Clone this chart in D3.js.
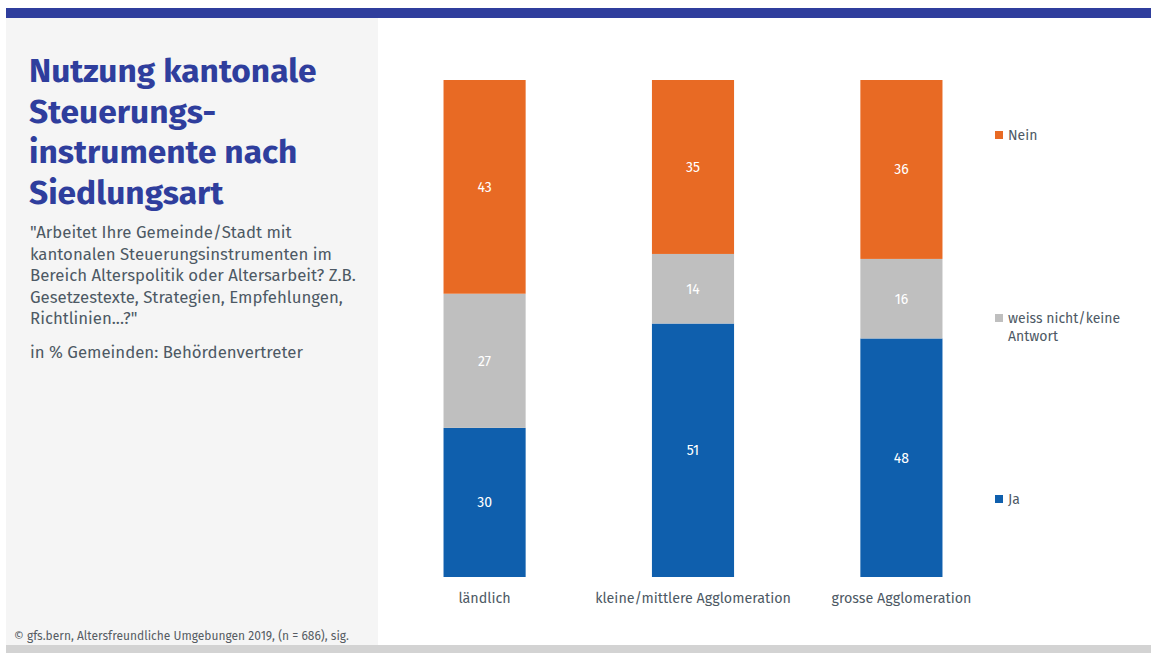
<!DOCTYPE html>
<html>
<head>
<meta charset="utf-8">
<script src="https://cdn.jsdelivr.net/npm/d3@7"></script>
<style>
  html, body { margin: 0; padding: 0; background: #ffffff; }
  svg { display: block; }
  text { font-family: "Fira Sans", Lato, "Noto Sans", sans-serif; }
</style>
</head>
<body>
<svg id="chart" width="1151" height="653"></svg>
<script>
// Settlement types (x categories)
const categories = ["ländlich", "kleine/mittlere Agglomeration", "grosse Agglomeration"];
// Answer series, stacked bottom to top
const seriesNames = ["Ja", "weiss nicht/keine Antwort", "Nein"];
const ja       = [30, 51, 48];
const weiss    = [27, 14, 16];
const nein     = [43, 35, 36];
const seriesColors = ["#0f5fad", "#bfbfbf", "#e86a24"];

const titleLines = ["Nutzung kantonale", "Steuerungs-", "instrumente nach", "Siedlungsart"];
const questionLines = [
  "\"Arbeitet Ihre Gemeinde/Stadt mit",
  "kantonalen Steuerungsinstrumenten im",
  "Bereich Alterspolitik oder Altersarbeit? Z.B.",
  "Gesetzestexte, Strategien, Empfehlungen,",
  "Richtlinien...?\""
];
const baseText = "in % Gemeinden: Behördenvertreter";
const sourceText = "© gfs.bern, Altersfreundliche Umgebungen 2019, (n = 686), sig.";

const svg = d3.select("#chart");
const W = 1151, H = 653;

// Frame: top band, left info panel, bottom band
svg.append("rect").attr("x", 6).attr("y", 8).attr("width", W - 6).attr("height", 10).attr("fill", "#2f3e9d");
svg.append("rect").attr("x", 6).attr("y", 18).attr("width", 372).attr("height", 627).attr("fill", "#f5f5f5");
svg.append("rect").attr("x", 6).attr("y", 645).attr("width", W - 6).attr("height", 8).attr("fill", "#d3d3d3");

// Title
const title = svg.append("text").attr("x", 29).attr("y", 82)
  .attr("fill", "#2f3e9d").attr("font-size", 33.5).attr("font-weight", 700);
titleLines.forEach((l, i) => title.append("tspan").attr("x", 29).attr("dy", i ? 40.5 : 0).text(l));

// Question text
const q = svg.append("text").attr("x", 30).attr("y", 238)
  .attr("fill", "#4d5964").attr("font-size", 16.8);
questionLines.forEach((l, i) => q.append("tspan").attr("x", 30).attr("dy", i ? 21.6 : 0).text(l));

svg.append("text").attr("x", 30).attr("y", 358).attr("fill", "#4d5964").attr("font-size", 16.8).text(baseText);

// Source
svg.append("text").attr("x", 14).attr("y", 640).attr("fill", "#555c63").attr("font-size", 12).text(sourceText);

// Chart area
const x = d3.scaleBand().domain(categories).range([381, 1005]).paddingInner(0.606).paddingOuter(0.3);
const y = d3.scaleLinear().domain([0, 100]).range([577, 80]);

const rows = categories.map((c, i) => ({ cat: c, "Ja": ja[i], "weiss nicht/keine Antwort": weiss[i], "Nein": nein[i] }));
const stacked = d3.stack().keys(seriesNames)(rows);

const groups = svg.append("g").selectAll("g").data(stacked).join("g")
  .attr("fill", (d, i) => seriesColors[i]);

groups.selectAll("rect").data(d => d).join("rect")
  .attr("x", d => x(d.data.cat))
  .attr("width", x.bandwidth())
  .attr("y", d => y(d[1]))
  .attr("height", d => y(d[0]) - y(d[1]));

groups.selectAll("text").data(d => d.map(v => ({ v, key: d.key }))).join("text")
  .attr("x", d => x(d.v.data.cat) + x.bandwidth() / 2)
  .attr("y", d => (y(d.v[0]) + y(d.v[1])) / 2)
  .attr("dy", "0.35em")
  .attr("text-anchor", "middle")
  .attr("fill", "#ffffff")
  .attr("font-size", 14)
  .text(d => d.v.data[d.key]);

// Category axis (labels only)
const xAxis = svg.append("g").attr("transform", "translate(0,577)")
  .call(d3.axisBottom(x).tickSize(0).tickPadding(16));
xAxis.select(".domain").remove();
xAxis.selectAll("text").attr("fill", "#4d5964").attr("font-size", 14.3)
  .style("font-family", "\"Fira Sans\", Lato, \"Noto Sans\", sans-serif");

// Legend
const legendItems = [
  { name: "Nein", color: seriesColors[2], y: 135, lines: ["Nein"] },
  { name: "weiss nicht/keine Antwort", color: seriesColors[1], y: 318, lines: ["weiss nicht/keine", "Antwort"] },
  { name: "Ja", color: seriesColors[0], y: 499, lines: ["Ja"] }
];
const lg = svg.append("g").selectAll("g").data(legendItems).join("g")
  .attr("transform", d => `translate(995,${d.y})`);
lg.append("rect").attr("x", 0).attr("y", -4).attr("width", 8).attr("height", 8).attr("fill", d => d.color);
lg.append("text").attr("x", 13).attr("y", 0)
  .attr("fill", "#4d5964").attr("font-size", 14)
  .each(function(d) {
    d.lines.forEach((l, i) => d3.select(this).append("tspan").attr("x", 13).attr("dy", i ? 18 : "0.35em").text(l));
  });
</script>
</body>
</html>
